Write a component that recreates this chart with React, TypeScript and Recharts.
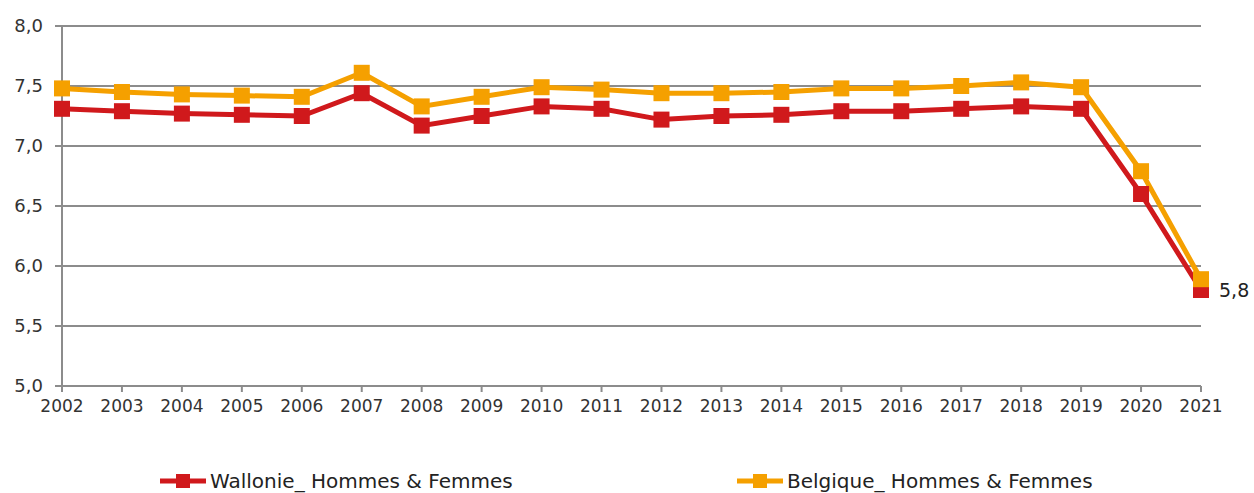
import React from 'react';
import { LineChart, Line, XAxis, YAxis, CartesianGrid, Legend } from 'recharts';

const years = ['2002','2003','2004','2005','2006','2007','2008','2009','2010','2011','2012','2013','2014','2015','2016','2017','2018','2019','2020','2021'];
const wallonie = [7.31,7.29,7.27,7.26,7.25,7.44,7.17,7.25,7.33,7.31,7.22,7.25,7.26,7.29,7.29,7.31,7.33,7.31,6.6,5.8];
const belgique = [7.48,7.45,7.43,7.42,7.41,7.61,7.33,7.41,7.49,7.47,7.44,7.44,7.45,7.48,7.48,7.5,7.53,7.49,6.79,5.89];
const yTicks = [5, 5.5, 6, 6.5, 7, 7.5, 8];

const RED = '#D0191C';
const ORANGE = '#F5A000';

const data = years.map((y, i) => ({ year: y, w: wallonie[i], b: belgique[i] }));

const fmt = (v: number) => v.toFixed(1).replace('.', ',');

const squareDot = (color: string) => (props: any) => {
  const { cx, cy, index } = props;
  return <rect key={index} x={cx - 8} y={cy - 8} width={16} height={16} fill={color} />;
};

const lastLabel = (props: any) => {
  const { x, y, index, value } = props;
  if (index !== wallonie.length - 1) return null;
  return (
    <text key="lbl" x={x + 18} y={y} dy={7} fontSize={19} fontFamily="DejaVu Sans" fill="#222" fontWeight={500}>
      {fmt(value)}
    </text>
  );
};

const LegendContent = () => (
  <div style={{ position: 'relative', width: 1254, height: 22, fontFamily: 'DejaVu Sans', fontSize: 20, lineHeight: '22px', color: '#222' }}>
    {[{ name: 'Wallonie_ Hommes & Femmes', c: RED, x: 160 }, { name: 'Belgique_ Hommes & Femmes', c: ORANGE, x: 737 }].map((it) => (
      <div key={it.name} style={{ position: 'absolute', left: it.x, top: 0, display: 'flex', alignItems: 'center', whiteSpace: 'nowrap' }}>
        <svg width={46} height={16} style={{ marginRight: 4 }}>
          <line x1={0} y1={8} x2={46} y2={8} stroke={it.c} strokeWidth={5} />
          <rect x={16} y={1} width={14} height={14} fill={it.c} />
        </svg>
        <span>{it.name}</span>
      </div>
    ))}
  </div>
);

export default function App() {
  return (
    <div style={{ position: 'absolute', left: 0, top: 0, width: 1254, height: 493, background: '#fff', overflow: 'hidden' }}>
      <LineChart width={1254} height={493} data={data} margin={{ top: 26, right: 53, left: 0, bottom: 67 }}>
        <CartesianGrid vertical={false} stroke="#8c8c8c" strokeWidth={2} />
        <XAxis
          dataKey="year"
          height={40}
          stroke="#8c8c8c"
          strokeWidth={2}
          tickSize={6}
          tickMargin={8}
          tick={{ fill: '#333', fontSize: 17, fontFamily: 'DejaVu Sans' }}
          interval={0}
        />
        <YAxis
          width={62}
          domain={[5, 8]}
          ticks={yTicks}
          tickFormatter={fmt}
          stroke="#8c8c8c"
          strokeWidth={2}
          tickSize={7}
          tickMargin={12}
          tick={{ fill: '#333', fontSize: 18, fontFamily: 'DejaVu Sans' }}
          allowDataOverflow
        />
        <Line
          dataKey="w"
          name="Wallonie_ Hommes & Femmes"
          stroke={RED}
          strokeWidth={5}
          dot={squareDot(RED)}
          activeDot={false}
          isAnimationActive={false}
          label={lastLabel}
        />
        <Line
          dataKey="b"
          name="Belgique_ Hommes & Femmes"
          stroke={ORANGE}
          strokeWidth={5}
          dot={squareDot(ORANGE)}
          activeDot={false}
          isAnimationActive={false}
        />
        <Legend
          layout="horizontal"
          verticalAlign="middle"
          content={<LegendContent />}
          wrapperStyle={{ position: 'absolute', top: 470, left: 0, width: 1254, height: 22 }}
        />
      </LineChart>
    </div>
  );
}
